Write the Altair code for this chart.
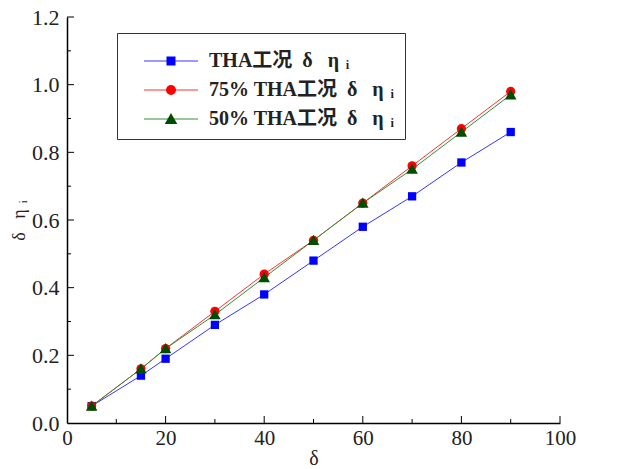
import altair as alt
import pandas as pd

x_vals = [5, 15, 20, 30, 40, 50, 60, 70, 80, 90]
tha = [0.05, 0.14, 0.19, 0.29, 0.38, 0.48, 0.58, 0.67, 0.77, 0.86]
tha75 = [0.05, 0.16, 0.22, 0.33, 0.44, 0.54, 0.65, 0.76, 0.87, 0.98]
tha50 = [0.05, 0.16, 0.22, 0.32, 0.43, 0.54, 0.65, 0.75, 0.86, 0.97]
SFX = "\u2002δ\u2002\u2005η\u2004ᵢ"
series_names = ["THA工况" + SFX, "75% THA工况" + SFX, "50% THA工况" + SFX]
line_colors = ["#3535ff", "#ff3030", "#358c35"]
marker_colors = ["#0000ff", "#ff0000", "#004d00"]
marker_shapes = ["M-0.9,-0.9H0.9V0.9H-0.9Z", "circle", "M0,-1.2L1.25,1L-1.25,1Z"]
x_major = [20, 40, 60, 80, 100]
x_minor = [10, 30, 50, 70, 90]
y_major = [0.2, 0.4, 0.6, 0.8, 1.0, 1.2]
y_minor = [0.1, 0.3, 0.5, 0.7, 0.9, 1.1]
y_labels = [0.0, 0.2, 0.4, 0.6, 0.8, 1.0, 1.2]
x_labels = [0, 20, 40, 60, 80, 100]

rows = []
for name, ys in zip(series_names, [tha, tha75, tha50]):
    for xv, yv in zip(x_vals, ys):
        rows.append({"x": xv, "y": yv, "series": name})
df = pd.DataFrame(rows)

FONT = "Liberation Serif, Noto Sans CJK SC, DejaVu Serif"
W, H = 493, 406

xscale = alt.Scale(domain=[0, 100], nice=False, zero=False)
yscale = alt.Scale(domain=[0, 1.2], nice=False)

xaxis = alt.Axis(values=x_labels, ticks=False, grid=False, domainColor="black",
                 domainWidth=1.5, labelFont=FONT, labelFontSize=21, labelColor="#222",
                 labelPadding=4, title="δ", titleFont=FONT, titleFontSize=20,
                 titleFontWeight="normal", titleColor="#222", titlePadding=0,
                 labelFlush=False)
yaxis = alt.Axis(values=y_labels, format=".1f", ticks=False, grid=False,
                 domainColor="black", domainWidth=1.5, labelFont=FONT,
                 labelFontSize=22, labelColor="#222", labelPadding=8,
                 title="δ\u2002\u2005η\u2004ᵢ", titleFont=FONT, titleFontSize=18,
                 titleFontWeight="normal", titleColor="#222", titlePadding=3,
                 labelFlush=False)

common_leg = dict(orient="none", legendX=50, legendY=16, title=" ", titleFontSize=8,
                  titlePadding=0, padding=10,
                  labelFont=FONT, labelFontSize=20, labelFontWeight="bold",
                  labelColor="#222", rowPadding=9, labelLimit=400, labelOffset=28)

leg_lines = alt.Legend(strokeColor="#333", fillColor="transparent",
                       symbolType="M-5.4,0H5.4", symbolSize=100,
                       symbolStrokeWidth=1, symbolOpacity=1, symbolOffset=34,
                       symbolFillColor="transparent", zindex=1, **common_leg)
leg_marks = alt.Legend(symbolSize=100, symbolOpacity=1, symbolOffset=34,
                       symbolStrokeWidth=0, labelOpacity=0, zindex=2, **common_leg)

base = alt.Chart(df)

lines = base.mark_line(strokeWidth=1).encode(
    x=alt.X("x:Q", scale=xscale, axis=xaxis),
    y=alt.Y("y:Q", scale=yscale, axis=yaxis),
    stroke=alt.Stroke("series:N", scale=alt.Scale(domain=series_names, range=line_colors),
                      legend=leg_lines),
    detail="series:N",
)

points = base.mark_point(filled=True, opacity=1, size=85).encode(
    x=alt.X("x:Q", scale=xscale),
    y=alt.Y("y:Q", scale=yscale),
    fill=alt.Fill("series:N", scale=alt.Scale(domain=series_names, range=marker_colors),
                  legend=leg_marks),
    shape=alt.Shape("series:N", scale=alt.Scale(domain=series_names, range=marker_shapes),
                    legend=leg_marks),
)

ytick_major = alt.Chart(pd.DataFrame({"v": y_major})).mark_rule(color="black", strokeWidth=1).encode(
    y=alt.Y("v:Q", scale=yscale), x=alt.value(0), x2=alt.value(7))
ytick_minor = alt.Chart(pd.DataFrame({"v": y_minor})).mark_rule(color="black", strokeWidth=1).encode(
    y=alt.Y("v:Q", scale=yscale), x=alt.value(0), x2=alt.value(4))
xtick_major = alt.Chart(pd.DataFrame({"v": x_major})).mark_rule(color="black", strokeWidth=1).encode(
    x=alt.X("v:Q", scale=xscale), y=alt.value(H), y2=alt.value(H - 7))
xtick_minor = alt.Chart(pd.DataFrame({"v": x_minor})).mark_rule(color="black", strokeWidth=1).encode(
    x=alt.X("v:Q", scale=xscale), y=alt.value(H), y2=alt.value(H - 4))

chart = alt.layer(
    ytick_major, ytick_minor, xtick_major, xtick_minor, lines, points
).resolve_scale(
    stroke="independent", fill="independent", shape="independent"
).resolve_legend(
    stroke="independent", fill="independent", shape="independent"
).properties(
    width=W, height=H,
    autosize=alt.AutoSizeParams(type="none"),
    padding={"left": 59, "top": 9, "right": 50, "bottom": 46},
    background="white",
).configure_view(stroke=None)

chart.save("out.html", embed_options={"renderer": "svg", "actions": False})
